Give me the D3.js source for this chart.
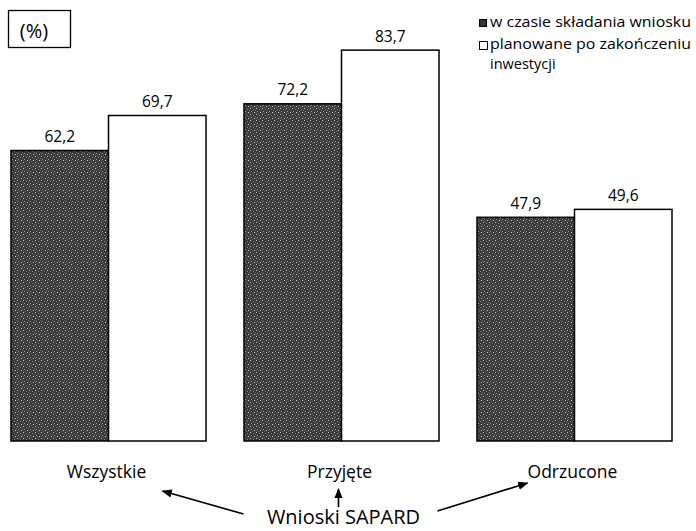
<!DOCTYPE html>
<html><head><meta charset="utf-8">
<script src="https://cdn.jsdelivr.net/npm/d3@7"></script>
<style>html,body{margin:0;padding:0;background:#fff;} svg{display:block;font-family:"Open Sans",sans-serif;}</style>
</head><body>
<svg id="chart" width="696" height="531"></svg>
<script>
const categories = ["Wszystkie", "Przyjęte", "Odrzucone"];
const seriesNames = ["w czasie składania wniosku", "planowane po zakończeniu inwestycji"];
const atSubmission = [62.2, 72.2, 47.9];
const planned = [69.7, 83.7, 49.6];
const unitLabel = "(%)";
const groupLabel = "Wnioski SAPARD";

const svg = d3.select("#chart");
const baseY = 441;

const defs = svg.append("defs");
// textured dark fill
const pat = defs.append("pattern").attr("id","tex").attr("patternUnits","userSpaceOnUse")
  .attr("width",6).attr("height",6);
pat.append("rect").attr("width",6).attr("height",6).attr("fill","#383838");
const dots = [[0,0,"#c8c8c8"],[3,1,"#8a8a8a"],[1,3,"#9a9a9a"],[4,4,"#d8d8d8"],[5,2,"#707070"],[2,5,"#6a6a6a"],[0,4,"#555"]];
dots.forEach(d=>pat.append("rect").attr("x",d[0]).attr("y",d[1]).attr("width",1).attr("height",1).attr("fill",d[2]));

defs.append("marker").attr("id","arr").attr("viewBox","0 0 10 10").attr("refX",9).attr("refY",5)
  .attr("markerWidth",6.5).attr("markerHeight",6.5).attr("orient","auto-start-reverse")
  .append("path").attr("d","M0,1 L10,5 L0,9 Z").attr("fill","#000");

const x0 = d3.scaleBand().domain(categories).range([11, 672]).paddingInner(0.163).paddingOuter(0);
const x1 = d3.scaleBand().domain([0,1]).range([0, x0.bandwidth()]).padding(0);
const y = d3.scaleLinear().domain([0, 90]).range([baseY, baseY - 420.3]);

const data = categories.map((c,i)=>({cat:c, vals:[atSubmission[i], planned[i]]}));

const g = svg.append("g");
const groups = g.selectAll("g.grp").data(data).join("g").attr("class","grp")
  .attr("transform", d=>`translate(${x0(d.cat)},0)`);

groups.selectAll("rect").data(d=>d.vals.map((v,k)=>({k,v}))).join("rect")
  .attr("x", d=>x1(d.k)).attr("width", x1.bandwidth())
  .attr("y", d=>y(d.v)).attr("height", d=>baseY - y(d.v))
  .attr("fill", d=> d.k===0 ? "url(#tex)" : "#fff")
  .attr("stroke","#000").attr("stroke-width",1.5);

groups.selectAll("text.val").data(d=>d.vals.map((v,k)=>({k,v}))).join("text")
  .attr("class","val")
  .attr("x", d=>x1(d.k)+x1.bandwidth()/2).attr("y", d=>y(d.v)-8.5)
  .attr("text-anchor","middle").attr("font-size",15.5).attr("fill","#000")
  .text(d=>d3.format(".1f")(d.v).replace(".",","));

// category labels
svg.selectAll("text.cat").data(categories).join("text").attr("class","cat")
  .attr("x", d=>x0(d)+x0.bandwidth()/2 - 2).attr("y", 478)
  .attr("text-anchor","middle").attr("font-size",17.5).text(d=>d);

// group label and arrows
const cMid = x0(categories[1]) + x0.bandwidth()/2;
const cL = x0(categories[0]) + x0.bandwidth()/2;
const cR = x0(categories[2]) + x0.bandwidth()/2;
svg.append("text").attr("x", cMid + 2).attr("y", 524).attr("text-anchor","middle")
  .attr("font-size",20).text(groupLabel);

const arrows = [
  [[cMid-98, 514],[cL+54, 491]],
  [[cMid-3, 507],[cMid-3, 489]],
  [[cMid+96, 511],[cR-47, 483]]
];
svg.selectAll("line.arrow").data(arrows).join("line").attr("class","arrow")
  .attr("x1",d=>d[0][0]).attr("y1",d=>d[0][1]).attr("x2",d=>d[1][0]).attr("y2",d=>d[1][1])
  .attr("stroke","#000").attr("stroke-width",1.6).attr("marker-end","url(#arr)");

// unit box
svg.append("rect").attr("x",8.5).attr("y",10.5).attr("width",62).attr("height",37)
  .attr("fill","#fff").attr("stroke","#000").attr("stroke-width",1.3);
svg.append("text").attr("x",34).attr("y",37.5).attr("text-anchor","middle").attr("font-size",20).text(unitLabel);

// legend
const lg = svg.append("g").attr("transform","translate(479,0)");
lg.append("rect").attr("x",0.5).attr("y",19.5).attr("width",7).attr("height",7).attr("fill","#333").attr("stroke","#000");
lg.append("text").attr("x",11).attr("y",26.5).attr("font-size",14.5).attr("textLength",201).attr("lengthAdjust","spacingAndGlyphs").text(seriesNames[0]);
lg.append("rect").attr("x",0.5).attr("y",41.5).attr("width",8).attr("height",8).attr("fill","#fff").attr("stroke","#000");
const words = seriesNames[1].split(" ");
lg.append("text").attr("x",11).attr("y",48.5).attr("font-size",14.5).attr("textLength",201).attr("lengthAdjust","spacingAndGlyphs").text(words.slice(0,3).join(" "));
lg.append("text").attr("x",11).attr("y",68.5).attr("font-size",14.5).text(words.slice(3).join(" "));
</script>
</body></html>
